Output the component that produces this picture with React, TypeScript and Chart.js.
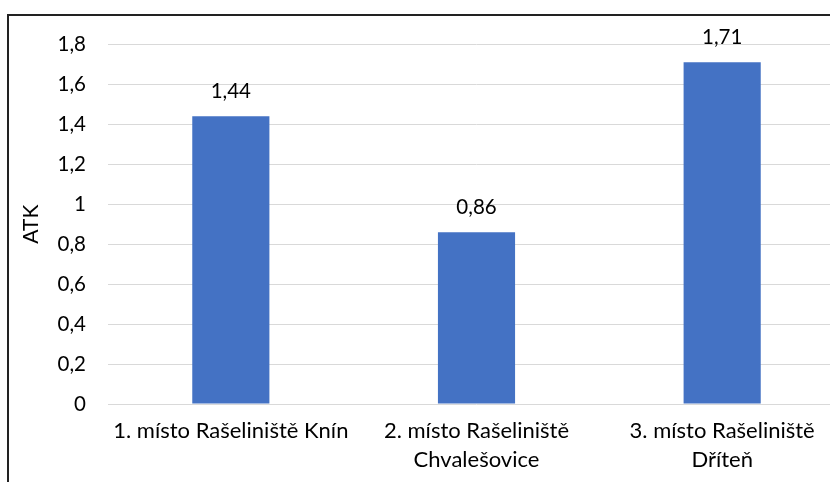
import React, { useEffect, useRef } from "react";
import { Chart, registerables } from "chart.js";

Chart.register(...registerables);

const categories: (string | string[])[] = [
  "1. místo Rašeliniště Knín",
  ["2. místo Rašeliniště", "Chvalešovice"],
  ["3. místo Rašeliniště", "Dříteň"],
];
const values: number[] = [1.44, 0.86, 1.71];
const yTitle = "ATK";

const fmt = (v: number) => String(Math.round(v * 100) / 100).replace(".", ",");

const FONT = "Lato, 'Noto Sans', sans-serif";

const dataLabels = {
  id: "dataLabels",
  afterDatasetsDraw(chart: any) {
    const ctx = chart.ctx;
    const meta = chart.getDatasetMeta(0);
    ctx.save();
    ctx.font = `20.5px ${FONT}`;
    ctx.fillStyle = "#000";
    ctx.textAlign = "center";
    ctx.textBaseline = "alphabetic";
    meta.data.forEach((bar: any, i: number) => {
      ctx.fillText(fmt(values[i]), bar.x, bar.y - 18);
    });
    ctx.restore();
  },
};

export default function App() {
  const ref = useRef<HTMLCanvasElement>(null);
  useEffect(() => {
    if (!ref.current) return;
    const chart = new Chart(ref.current, {
      type: "bar",
      data: {
        labels: categories,
        datasets: [
          {
            data: values,
            backgroundColor: "#4472C4",
            categoryPercentage: 1,
            barPercentage: 0.314,
          },
        ],
      },
      options: {
        animation: false,
        responsive: false,
        maintainAspectRatio: false,
        layout: { padding: { left: 0, right: 24, top: 0, bottom: 0 } },
        plugins: {
          legend: { display: false },
          tooltip: { enabled: false },
        },
        scales: {
          x: {
            grid: { display: false, drawTicks: false },
            border: { display: false },
            ticks: {
              color: "#000",
              font: { family: FONT, size: 22, lineHeight: 1.3 },
              padding: 13,
              maxRotation: 0,
              autoSkip: false,
            },
            afterFit(scale: any) {
              scale.height = 82;
            },
          },
          y: {
            min: 0,
            max: 1.8,
            ticks: {
              stepSize: 0.2,
              color: "#000",
              font: { family: FONT, size: 20.5 },
              padding: 22,
              callback: (v: any) => fmt(Number(v)),
            },
            grid: { color: "#d9d9d9", lineWidth: 1, drawTicks: false },
            border: { display: false },
            title: {
              display: true,
              text: yTitle,
              color: "#000",
              font: { family: FONT, size: 21, lineHeight: 1.2 },
              padding: { top: 10.1, bottom: 0 },
            },
            afterFit(scale: any) {
              scale.width = 99;
            },
          },
        },
      },
      plugins: [dataLabels],
    });
    return () => chart.destroy();
  }, []);

  return (
    <div
      style={{
        position: "fixed",
        left: 0,
        top: 0,
        width: 830,
        height: 482,
        overflow: "hidden",
        background: "#fff",
      }}
    >
      <div
        style={{
          position: "absolute",
          left: 7,
          top: 14,
          width: 900,
          height: 520,
          border: "2px solid #222",
          boxSizing: "border-box",
        }}
      />
      <canvas
        ref={ref}
        width={860}
        height={476}
        style={{ position: "absolute", left: 9, top: 10, width: 860, height: 476 }}
      />
    </div>
  );
}
